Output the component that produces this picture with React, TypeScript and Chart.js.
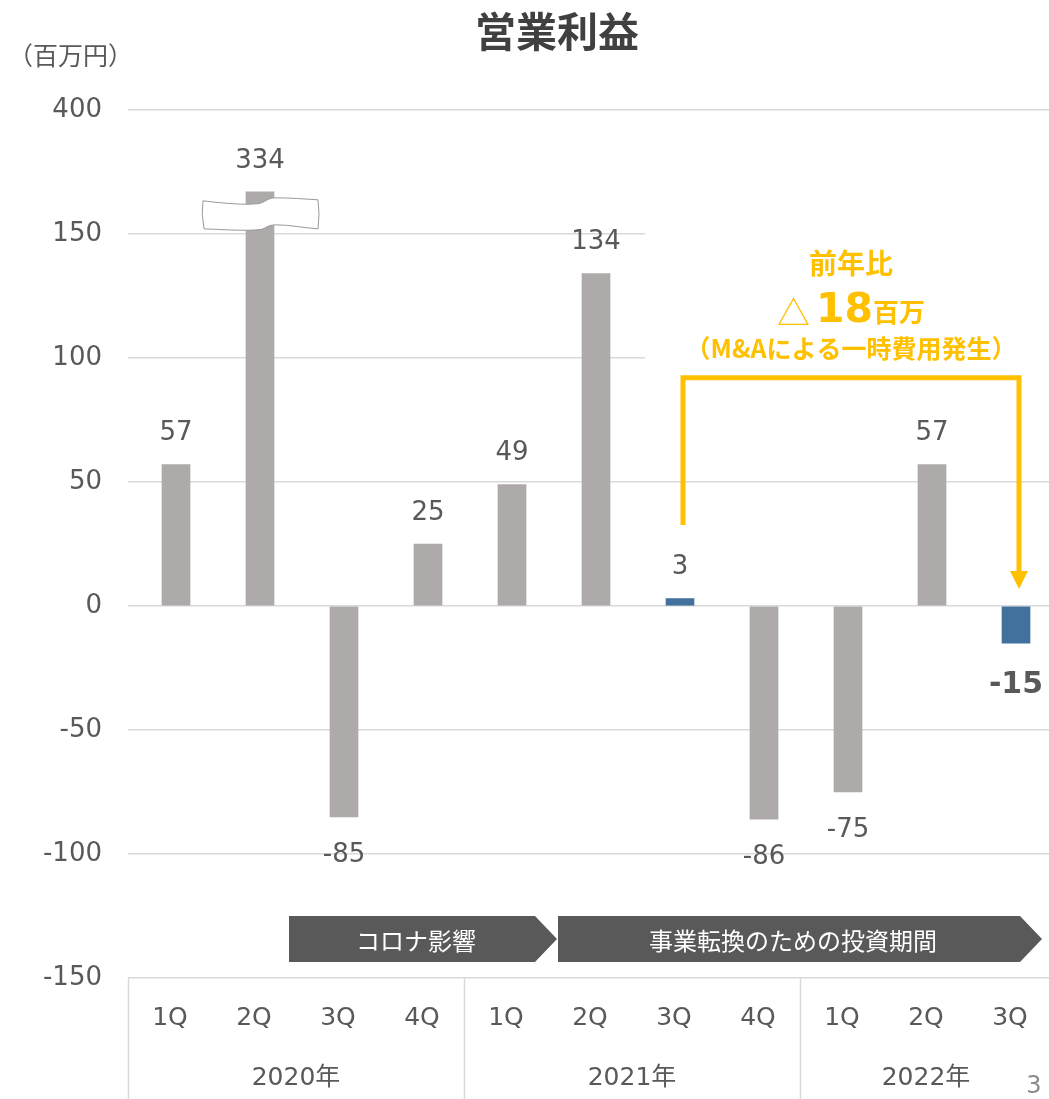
import React, { useEffect, useRef } from "react";
import { Chart, registerables } from "chart.js";

Chart.register(...registerables);

// ---------- data ----------
const quarterLabels = ["1Q", "2Q", "3Q", "4Q", "1Q", "2Q", "3Q", "4Q", "1Q", "2Q", "3Q"];
const yearLabels = ["2020年", "2021年", "2022年"];
const quartersPerYear = [4, 4, 3];
const operatingProfit = [57, 334, -85, 25, 49, 134, 3, -86, -75, 57, -15];
const highlightedBars = [false, false, false, false, false, false, true, false, false, false, true];
const boldValueLabels = [false, false, false, false, false, false, false, false, false, false, true];
const yTickValues = [-150, -100, -50, 0, 50, 100, 150, 200];
const yTickLabels = ["-150", "-100", "-50", "0", "50", "100", "150", "400"];
// axis break: values above this are drawn clipped (the 200 gridline is labelled 400)
const AXIS_BREAK_CAP = 167;
const phaseLabels = ["コロナ影響", "事業転換のための投資期間"];
const titleText = "営業利益";
const unitText = "（百万円）";
const annotationLine1 = "前年比";
const annotationDelta = "18";
const annotationUnit = "百万";
const annotationLine3 = "（M&Aによる一時費用発生）";
const pageNumber = "3";

// ---------- styles ----------
const GRAY_BAR = "#AEAAAA";
const BLUE_BAR = "#41719C";
const TEXT = "#595959";
const GRID = "#D9D9D9";
const ORANGE = "#FFC000";
const ARROW_FILL = "#595959";
const LATIN = "'DejaVu Sans', 'Noto Sans CJK JP', sans-serif";
const CJK = "'Noto Sans CJK JP', 'DejaVu Sans', sans-serif";
const BAR_SHIFT = 6;

const plotted = operatingProfit.map((v) => Math.min(v, AXIS_BREAK_CAP));
const barColors = highlightedBars.map((h) => (h ? BLUE_BAR : GRAY_BAR));

function drawPhaseArrow(ctx: CanvasRenderingContext2D, x0: number, xBody: number, xTip: number, top: number, bottom: number, text: string) {
  const mid = (top + bottom) / 2;
  ctx.save();
  ctx.fillStyle = ARROW_FILL;
  ctx.beginPath();
  ctx.moveTo(x0, top);
  ctx.lineTo(xBody, top);
  ctx.lineTo(xTip, mid);
  ctx.lineTo(xBody, bottom);
  ctx.lineTo(x0, bottom);
  ctx.closePath();
  ctx.fill();
  ctx.fillStyle = "#FFFFFF";
  ctx.font = `24px ${CJK}`;
  ctx.textAlign = "center";
  ctx.textBaseline = "middle";
  ctx.fillText(text, (x0 + xBody) / 2 + 4, mid + 2);
  ctx.restore();
}

const overlayPlugin = {
  id: "overlay",
  afterDatasetsUpdate(chart: any) {
    const meta = chart.getDatasetMeta(0);
    meta.data.forEach((el: any) => {
      el.x += BAR_SHIFT;
    });
  },
  beforeDraw(chart: any) {
    const ctx: CanvasRenderingContext2D = chart.ctx;
    ctx.save();
    ctx.fillStyle = "#FFFFFF";
    ctx.fillRect(0, 0, chart.width, chart.height);
    ctx.restore();
  },
  afterDraw(chart: any) {
    const ctx: CanvasRenderingContext2D = chart.ctx;
    const xs = chart.scales.x;
    const ys = chart.scales.y;
    const area = chart.chartArea;
    const meta = chart.getDatasetMeta(0);
    const n = quarterLabels.length;
    const catW = (xs.right - xs.left) / n;

    ctx.save();

    // title & unit
    ctx.fillStyle = "#404040";
    ctx.font = `bold 41px ${CJK}`;
    ctx.textAlign = "center";
    ctx.textBaseline = "middle";
    ctx.fillText(titleText, 557, 31);
    ctx.fillStyle = TEXT;
    ctx.font = `25px ${CJK}`;
    ctx.textAlign = "left";
    ctx.fillText(unitText, 8, 55);

    // axis break symbol on the clipped bar
    operatingProfit.forEach((v, i) => {
      if (v <= AXIS_BREAK_CAP) return;
      const el = meta.data[i];
      const cx = el.x;
      const t = el.y + 8;
      const h = 28;
      const L = cx - 57;
      const R = cx + 58;
      ctx.save();
      ctx.fillStyle = "#FFFFFF";
      ctx.strokeStyle = "#9A9A9A";
      ctx.lineWidth = 1;
      ctx.beginPath();
      ctx.moveTo(L, t + 1);
      ctx.bezierCurveTo(L + 25, t + 4, cx - 15, t + 5, cx - 3, t + 4);
      ctx.bezierCurveTo(cx + 6, t + 3, cx + 6, t - 2, cx + 16, t - 2);
      ctx.bezierCurveTo(cx + 30, t - 2, R - 15, t - 1, R, t);
      ctx.quadraticCurveTo(R + 2, t + h / 2, R, t + h + 1);
      ctx.bezierCurveTo(R - 15, t + h, cx + 30, t + h - 3, cx + 16, t + h - 3);
      ctx.bezierCurveTo(cx + 6, t + h - 3, cx + 6, t + h + 2, cx - 3, t + h + 2);
      ctx.bezierCurveTo(cx - 15, t + h + 3, L + 25, t + h + 2, L + 1, t + h + 1);
      ctx.quadraticCurveTo(L - 2, t + h / 2, L, t + 1);
      ctx.closePath();
      ctx.fill();
      ctx.stroke();
      ctx.restore();
    });

    // value labels
    ctx.textAlign = "center";
    ctx.textBaseline = "middle";
    meta.data.forEach((el: any, i: number) => {
      const v = operatingProfit[i];
      const bold = boldValueLabels[i];
      ctx.fillStyle = TEXT;
      ctx.font = bold ? `bold 30px ${LATIN}` : `26px ${LATIN}`;
      const y = v >= 0 ? el.y - 31 : el.y + (bold ? 42 : 38);
      ctx.fillText(String(v), el.x, y);
    });

    // x axis: quarter labels, year labels, separators
    ctx.strokeStyle = GRID;
    ctx.lineWidth = 1.5;
    let start = 0;
    quartersPerYear.forEach((count, gi) => {
      const gx0 = xs.left + start * catW;
      const gx1 = xs.left + (start + count) * catW;
      ctx.beginPath();
      ctx.moveTo(Math.round(gx0) + 0.5, area.bottom);
      ctx.lineTo(Math.round(gx0) + 0.5, chart.height);
      ctx.stroke();
      ctx.fillStyle = TEXT;
      ctx.font = `25px ${LATIN}`;
      ctx.fillText(yearLabels[gi], (gx0 + gx1) / 2, 1078);
      start += count;
    });
    quarterLabels.forEach((q, i) => {
      ctx.fillStyle = TEXT;
      ctx.font = `25px ${LATIN}`;
      ctx.fillText(q, xs.getPixelForValue(i), 1018);
    });

    // phase arrows
    drawPhaseArrow(ctx, 289, 535, 557, 916, 962, phaseLabels[0]);
    drawPhaseArrow(ctx, 558, 1020, 1042, 916, 962, phaseLabels[1]);

    // annotation white box
    ctx.fillStyle = "#FFFFFF";
    ctx.fillRect(645, 231, chart.width - 645, 140);

    // bracket
    const xa = meta.data[6].x + 3;
    const xb = meta.data[10].x + 3;
    const yTop = ys.getPixelForValue(92);
    ctx.strokeStyle = ORANGE;
    ctx.lineWidth = 5;
    ctx.lineJoin = "miter";
    ctx.beginPath();
    ctx.moveTo(xa, 525);
    ctx.lineTo(xa, yTop);
    ctx.lineTo(xb, yTop);
    ctx.lineTo(xb, 574);
    ctx.stroke();
    ctx.fillStyle = ORANGE;
    ctx.beginPath();
    ctx.moveTo(xb - 9, 571);
    ctx.lineTo(xb + 9, 571);
    ctx.lineTo(xb, 589);
    ctx.closePath();
    ctx.fill();

    // annotation text
    const cxA = (xa + xb) / 2;
    ctx.fillStyle = ORANGE;
    ctx.textAlign = "center";
    ctx.textBaseline = "middle";
    ctx.font = `bold 28px ${CJK}`;
    ctx.fillText(annotationLine1, cxA, 263);
    ctx.font = `bold 25px ${CJK}`;
    ctx.fillText(annotationLine3, cxA, 348);

    ctx.textAlign = "left";
    ctx.textBaseline = "alphabetic";
    const triFont = `33px ${CJK}`;
    const numFont = `bold 41px ${LATIN}`;
    const unitFont = `bold 26px ${CJK}`;
    ctx.font = triFont;
    const w1 = ctx.measureText("△").width;
    ctx.font = numFont;
    const w2 = ctx.measureText(annotationDelta).width;
    ctx.font = unitFont;
    const w3 = ctx.measureText(annotationUnit).width;
    const gap = 6;
    let x = cxA - (w1 + gap + w2 + w3) / 2;
    const base = 322;
    ctx.font = triFont;
    ctx.fillText("△", x, base + 3);
    x += w1 + gap;
    ctx.font = numFont;
    ctx.fillText(annotationDelta, x, base);
    x += w2;
    ctx.font = unitFont;
    ctx.fillText(annotationUnit, x, base);

    // page number
    ctx.fillStyle = "#8C8C8C";
    ctx.font = `24px ${LATIN}`;
    ctx.textAlign = "center";
    ctx.textBaseline = "middle";
    ctx.fillText(pageNumber, 1034, 1087);

    ctx.restore();
  },
};

export default function App() {
  const canvasRef = useRef<HTMLCanvasElement>(null);

  useEffect(() => {
    const canvas = canvasRef.current;
    if (!canvas) return;
    const chart = new Chart(canvas, {
      type: "bar",
      data: {
        labels: quarterLabels,
        datasets: [
          {
            data: plotted,
            backgroundColor: barColors,
            borderWidth: 0,
            barThickness: 28,
          },
        ],
      },
      options: {
        responsive: false,
        animation: false,
        devicePixelRatio: 1,
        layout: { padding: { top: 110, bottom: 121, left: 0, right: 0 } },
        plugins: {
          legend: { display: false },
          tooltip: { enabled: false },
          title: { display: false },
        },
        scales: {
          x: {
            display: false,
            offset: true,
            grid: { display: false },
          },
          y: {
            min: -150,
            max: 200,
            afterFit: (s: any) => {
              s.width = 128;
            },
            afterBuildTicks: (s: any) => {
              s.ticks = yTickValues.map((v) => ({ value: v }));
            },
            ticks: {
              padding: 26,
              color: TEXT,
              font: { family: LATIN, size: 26 },
              callback: (value: any) => {
                const idx = yTickValues.indexOf(Number(value));
                return idx >= 0 ? yTickLabels[idx] : "";
              },
            },
            grid: { color: GRID, lineWidth: 1.5, drawTicks: false },
            border: { display: false },
          },
        },
      },
      plugins: [overlayPlugin],
    });
    return () => chart.destroy();
  }, []);

  return (
    <div
      style={{
        position: "fixed",
        left: 0,
        top: 0,
        width: 1049,
        height: 1099,
        overflow: "hidden",
        background: "#FFFFFF",
      }}
    >
      <canvas ref={canvasRef} width={1052} height={1099} style={{ display: "block" }} />
    </div>
  );
}
